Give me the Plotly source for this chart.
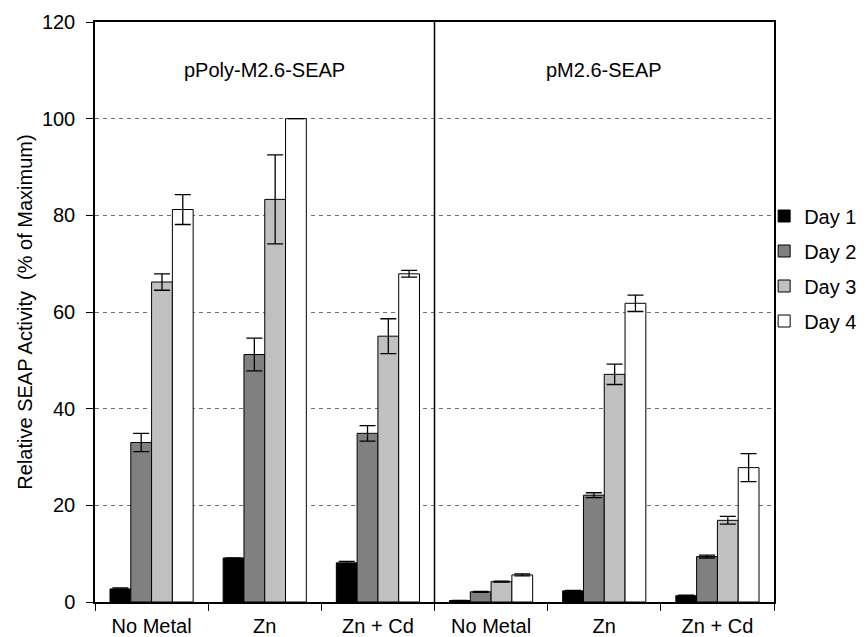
import plotly.graph_objects as go

# ---- data ----
groups = ["No Metal", "Zn", "Zn + Cd", "No Metal", "Zn", "Zn + Cd"]
group_pos = [0, 1, 2, 3, 4, 5]
panels = ["pPoly-M2.6-SEAP", "pM2.6-SEAP"]
panel_pos = [1, 4]
series = ["Day 1", "Day 2", "Day 3", "Day 4"]
day1 = [2.7, 9.1, 8.1, 0.3, 2.3, 1.3]
day1_err = [0.2, 0.0, 0.3, 0.05, 0.1, 0.1]
day2 = [33.0, 51.2, 34.9, 2.1, 22.1, 9.4]
day2_err = [1.9, 3.4, 1.6, 0.1, 0.5, 0.3]
day3 = [66.2, 83.3, 55.0, 4.2, 47.1, 16.9]
day3_err = [1.7, 9.2, 3.6, 0.1, 2.1, 0.8]
day4 = [81.2, 100.0, 67.9, 5.6, 61.8, 27.8]
day4_err = [3.1, 0.0, 0.7, 0.2, 1.7, 2.9]
colors = ["#000000", "#808080", "#c0c0c0", "#ffffff"]
y_ticks = [0, 20, 40, 60, 80, 100, 120]

values = [day1, day2, day3, day4]
errors = [day1_err, day2_err, day3_err, day4_err]

FONT = "Arial, Liberation Sans, Helvetica, sans-serif"
FS = 20

fig = go.Figure()
for i, name in enumerate(series):
    fig.add_trace(go.Bar(
        x=group_pos, y=values[i], name=name, legendgroup=name,
        marker=dict(color=colors[i], line=dict(color="black", width=1)),
        error_y=dict(type="data", array=errors[i], visible=True,
                     color="black", thickness=1.3, width=8),
    ))

for name, px in zip(panels, panel_pos):
    fig.add_annotation(x=px, y=110, xref="x", yref="y", text=name,
                       showarrow=False, font=dict(size=FS, color="black", family=FONT))

fig.add_shape(type="line", xref="x", yref="y", x0=2.5, x1=2.5, y0=0, y1=120,
              line=dict(color="black", width=1.5))

fig.update_layout(
    width=866, height=637,
    margin=dict(l=87, r=100, t=14, b=43, autoexpand=False),
    paper_bgcolor="white", plot_bgcolor="white",
    barmode="group", bargap=0.265, bargroupgap=0,
    font=dict(family=FONT, size=FS, color="black"),
    legend=dict(x=0.9855, y=0.575, xanchor="left", yanchor="middle",
                font=dict(size=FS, color="black"), tracegroupgap=6,
                traceorder="grouped", itemwidth=30, bgcolor="rgba(0,0,0,0)"),
    showlegend=True,
)
fig.update_xaxes(
    range=[-0.5, 5.5], tickmode="array", tickvals=group_pos, ticktext=groups,
    ticks="", showgrid=False, zeroline=False, ticklabelstandoff=5,
    showline=True, linecolor="black", linewidth=1.5, mirror=True,
    tickfont=dict(size=FS, color="black"),
    minor=dict(tickmode="array", tickvals=[-0.5, 0.5, 1.5, 2.5, 3.5, 4.5, 5.5],
               ticks="outside", ticklen=7, tickcolor="black", tickwidth=1, showgrid=False),
)
fig.update_yaxes(
    range=[0, 120], tickmode="array", tickvals=y_ticks,
    ticks="outside", ticklen=7, tickcolor="black", ticklabelstandoff=7,
    showgrid=True, gridcolor="#707070", griddash="4px,4px", gridwidth=1,
    zeroline=False, showline=True, linecolor="black", linewidth=1.5, mirror=True,
    tickfont=dict(size=FS, color="black"),
    title=dict(text="Relative SEAP Activity  (% of Maximum)", standoff=4,
               font=dict(size=FS, color="black")),
)

fig.write_html("out.html")
